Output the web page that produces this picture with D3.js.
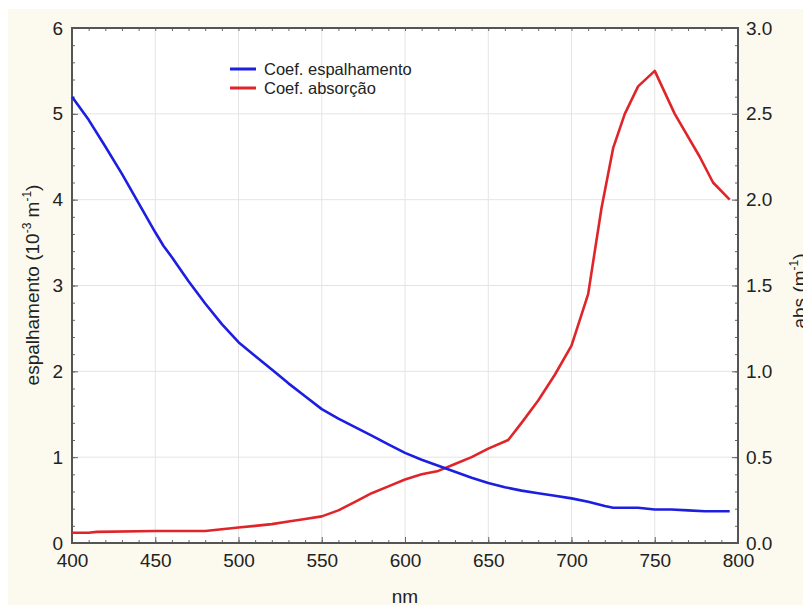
<!DOCTYPE html>
<html>
<head>
<meta charset="utf-8">
<script src="https://cdn.jsdelivr.net/npm/d3@7"></script>
<style>
  body { margin: 0; background: #fff; }
  svg text { font-family: "Liberation Sans", Arial, sans-serif; fill: #222; }
</style>
</head>
<body>
<svg id="chart" width="803" height="606"></svg>
<script>
// wavelengths (nm) and values
var scatNm = [400, 410, 420, 430, 440, 450, 455, 460, 470, 480, 490, 500, 510, 520, 530, 540, 550, 560, 570, 580, 590, 600, 610, 620, 630, 640, 650, 660, 670, 680, 690, 700, 710, 720, 725, 740, 750, 760, 770, 780, 795];
var scatVal = [5.2, 4.93, 4.62, 4.3, 3.96, 3.62, 3.46, 3.33, 3.05, 2.79, 2.55, 2.34, 2.18, 2.02, 1.86, 1.71, 1.56, 1.45, 1.35, 1.25, 1.15, 1.05, 0.97, 0.9, 0.83, 0.76, 0.7, 0.65, 0.61, 0.58, 0.55, 0.52, 0.48, 0.43, 0.41, 0.41, 0.39, 0.39, 0.38, 0.37, 0.37];

var absNm = [400, 410, 415, 450, 480, 490, 500, 510, 520, 530, 540, 550, 560, 570, 580, 590, 600, 610, 620, 630, 640, 650, 662, 670, 680, 690, 700, 705, 710, 718, 725, 732, 740, 750, 762, 777, 785, 795];
var absVal = [0.06, 0.06, 0.065, 0.07, 0.07, 0.08, 0.09, 0.1, 0.11, 0.125, 0.14, 0.155, 0.19, 0.24, 0.29, 0.33, 0.37, 0.4, 0.42, 0.46, 0.5, 0.55, 0.6, 0.7, 0.83, 0.98, 1.15, 1.3, 1.45, 1.95, 2.3, 2.5, 2.66, 2.75, 2.5, 2.25, 2.1, 2.0];

var xTicks = [400, 450, 500, 550, 600, 650, 700, 750, 800];
var leftTicks = [0, 1, 2, 3, 4, 5, 6];
var rightTicks = [0, 0.5, 1, 1.5, 2, 2.5, 3];
var legendNames = ["Coef. espalhamento", "Coef. absorção"];

var svg = d3.select("#chart");
var m = {left: 72, right: 738, top: 28, bottom: 543};

var x = d3.scaleLinear().domain([400, 800]).range([m.left, m.right]);
var yL = d3.scaleLinear().domain([0, 6]).range([m.bottom, m.top]);
var yR = d3.scaleLinear().domain([0, 3]).range([m.bottom, m.top]);

// cream page and white plot
svg.append("rect").attr("x", 8).attr("y", 9).attr("width", 795).attr("height", 596).attr("fill", "#fcf9ef");
svg.append("rect").attr("x", m.left).attr("y", m.top)
  .attr("width", m.right - m.left).attr("height", m.bottom - m.top).attr("fill", "#fff");

// grid
svg.append("g").selectAll("line").data(xTicks.slice(1, -1)).join("line")
  .attr("x1", d => x(d)).attr("x2", d => x(d)).attr("y1", m.top).attr("y2", m.bottom)
  .attr("stroke", "#e4e4e4").attr("stroke-width", 1);
svg.append("g").selectAll("line").data(leftTicks.slice(1, -1)).join("line")
  .attr("x1", m.left).attr("x2", m.right).attr("y1", d => yL(d)).attr("y2", d => yL(d))
  .attr("stroke", "#e4e4e4").attr("stroke-width", 1);

function styleAxis(g, size) {
  g.select(".domain").remove();
  g.selectAll("line").attr("stroke", "#666").attr("stroke-width", 1);
  g.selectAll("text").attr("font-size", size);
}

// minor ticks
var minorX = d3.range(400, 801, 10);
var minorL = d3.range(0, 6.01, 0.2);
var minorR = d3.range(0, 3.01, 0.1);

svg.append("g").attr("transform", "translate(0," + m.bottom + ")")
  .call(d3.axisBottom(x).tickValues(minorX).tickSize(-3).tickFormat(""))
  .call(g => styleAxis(g, 0));
svg.append("g").attr("transform", "translate(0," + m.top + ")")
  .call(d3.axisTop(x).tickValues(minorX).tickSize(-3).tickFormat(""))
  .call(g => styleAxis(g, 0));
svg.append("g").attr("transform", "translate(" + m.left + ",0)")
  .call(d3.axisLeft(yL).tickValues(minorL).tickSize(-3).tickFormat(""))
  .call(g => styleAxis(g, 0));
svg.append("g").attr("transform", "translate(" + m.right + ",0)")
  .call(d3.axisRight(yR).tickValues(minorR).tickSize(-3).tickFormat(""))
  .call(g => styleAxis(g, 0));

// major ticks + labels
svg.append("g").attr("transform", "translate(0," + m.bottom + ")")
  .call(d3.axisBottom(x).tickValues(xTicks).tickSize(-6).tickPadding(11).tickFormat(d3.format("d")))
  .call(g => styleAxis(g, 19));
svg.append("g").attr("transform", "translate(" + m.left + ",0)")
  .call(d3.axisLeft(yL).tickValues(leftTicks).tickSize(-6).tickPadding(9).tickFormat(d3.format("d")))
  .call(g => styleAxis(g, 19));
svg.append("g").attr("transform", "translate(" + m.right + ",0)")
  .call(d3.axisRight(yR).tickValues(rightTicks).tickSize(-6).tickPadding(8).tickFormat(d3.format(".1f")))
  .call(g => styleAxis(g, 19));

// frame
svg.append("rect").attr("x", m.left).attr("y", m.top)
  .attr("width", m.right - m.left).attr("height", m.bottom - m.top)
  .attr("fill", "none").attr("stroke", "#555").attr("stroke-width", 2);

// lines
var lineL = d3.line().x(d => x(d[0])).y(d => yL(d[1]));
var lineR = d3.line().x(d => x(d[0])).y(d => yR(d[1]));

svg.append("path").datum(d3.zip(absNm, absVal))
  .attr("d", lineR).attr("fill", "none").attr("stroke", "#e0252a")
  .attr("stroke-width", 2.6).attr("stroke-linejoin", "round");
svg.append("path").datum(d3.zip(scatNm, scatVal))
  .attr("d", lineL).attr("fill", "none").attr("stroke", "#1c1ee0")
  .attr("stroke-width", 2.6).attr("stroke-linejoin", "round");

// legend
var legendColors = ["#1c1ee0", "#e0252a"];
var leg = svg.append("g");
legendNames.forEach(function(name, i) {
  var yy = 69 + i * 19;
  leg.append("line").attr("x1", 230).attr("x2", 256).attr("y1", yy).attr("y2", yy)
    .attr("stroke", legendColors[i]).attr("stroke-width", 3);
  leg.append("text").attr("x", 264).attr("y", yy + 6).attr("font-size", 16.5)
    .text(name);
});

// axis titles
svg.append("text").attr("x", 405).attr("y", 603).attr("text-anchor", "middle")
  .attr("font-size", 19).text("nm");

var tl = svg.append("text").attr("transform", "translate(39,285) rotate(-90)")
  .attr("text-anchor", "middle").attr("font-size", 19);
tl.append("tspan").text("espalhamento (10");
tl.append("tspan").attr("font-size", 12).attr("dy", -8).text("-3");
tl.append("tspan").attr("dy", 8).text(" m");
tl.append("tspan").attr("font-size", 12).attr("dy", -8).text("-1");
tl.append("tspan").attr("dy", 8).text(")");

var tr = svg.append("text").attr("transform", "translate(806,291) rotate(-90)")
  .attr("text-anchor", "middle").attr("font-size", 19);
tr.append("tspan").text("abs (m");
tr.append("tspan").attr("font-size", 12).attr("dy", -8).text("-1");
tr.append("tspan").attr("dy", 8).text(")");
</script>
</body>
</html>
